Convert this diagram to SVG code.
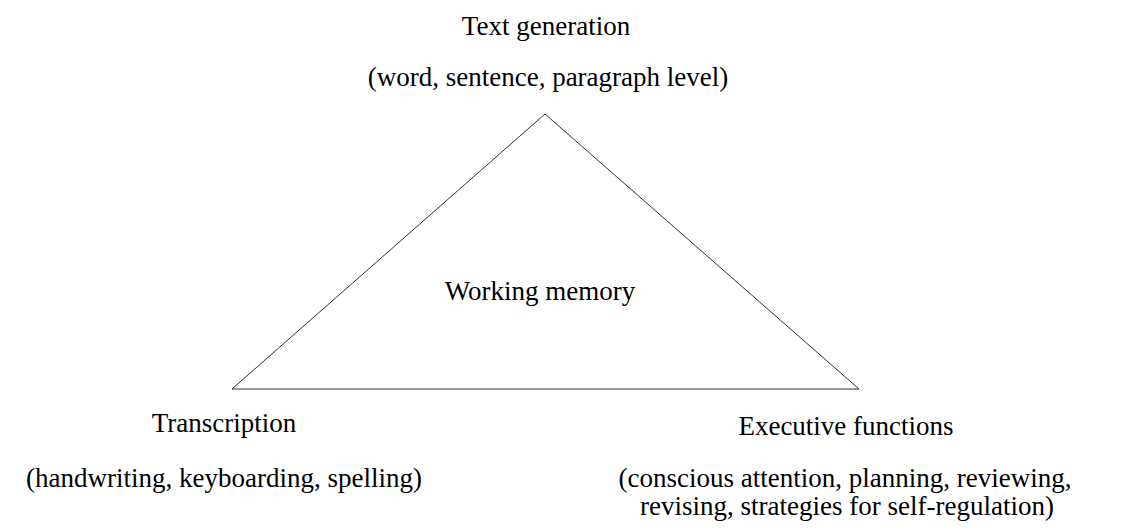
<svg xmlns="http://www.w3.org/2000/svg" width="1123" height="529" viewBox="0 0 1123 529">
<style>
.t{font-family:"Liberation Serif","Times New Roman",serif;font-size:27px;fill:#000;text-anchor:middle}
.edge{stroke:#333;stroke-width:1;fill:none}
</style>
<rect width="1123" height="529" fill="#fff"/>
<g id="connectors">
<line class="edge" x1="545" y1="114" x2="232" y2="389"/>
<line class="edge" x1="545" y1="114" x2="859" y2="389"/>
<line class="edge" x1="232" y1="389" x2="859" y2="389"/>
</g>
<g id="text-generation">
<text class="t" x="546" y="35">Text generation</text>
<text class="t" x="548" y="86">(word, sentence, paragraph level)</text>
</g>
<g id="working-memory">
<text class="t" x="540" y="300">Working memory</text>
</g>
<g id="transcription">
<text class="t" x="224" y="432">Transcription</text>
<text class="t" x="224" y="487">(handwriting, keyboarding, spelling)</text>
</g>
<g id="executive-functions">
<text class="t" x="846" y="435">Executive functions</text>
<text class="t" x="845" y="487">(conscious attention, planning, reviewing,</text>
<text class="t" x="847" y="515">revising, strategies for self-regulation)</text>
</g>
</svg>
